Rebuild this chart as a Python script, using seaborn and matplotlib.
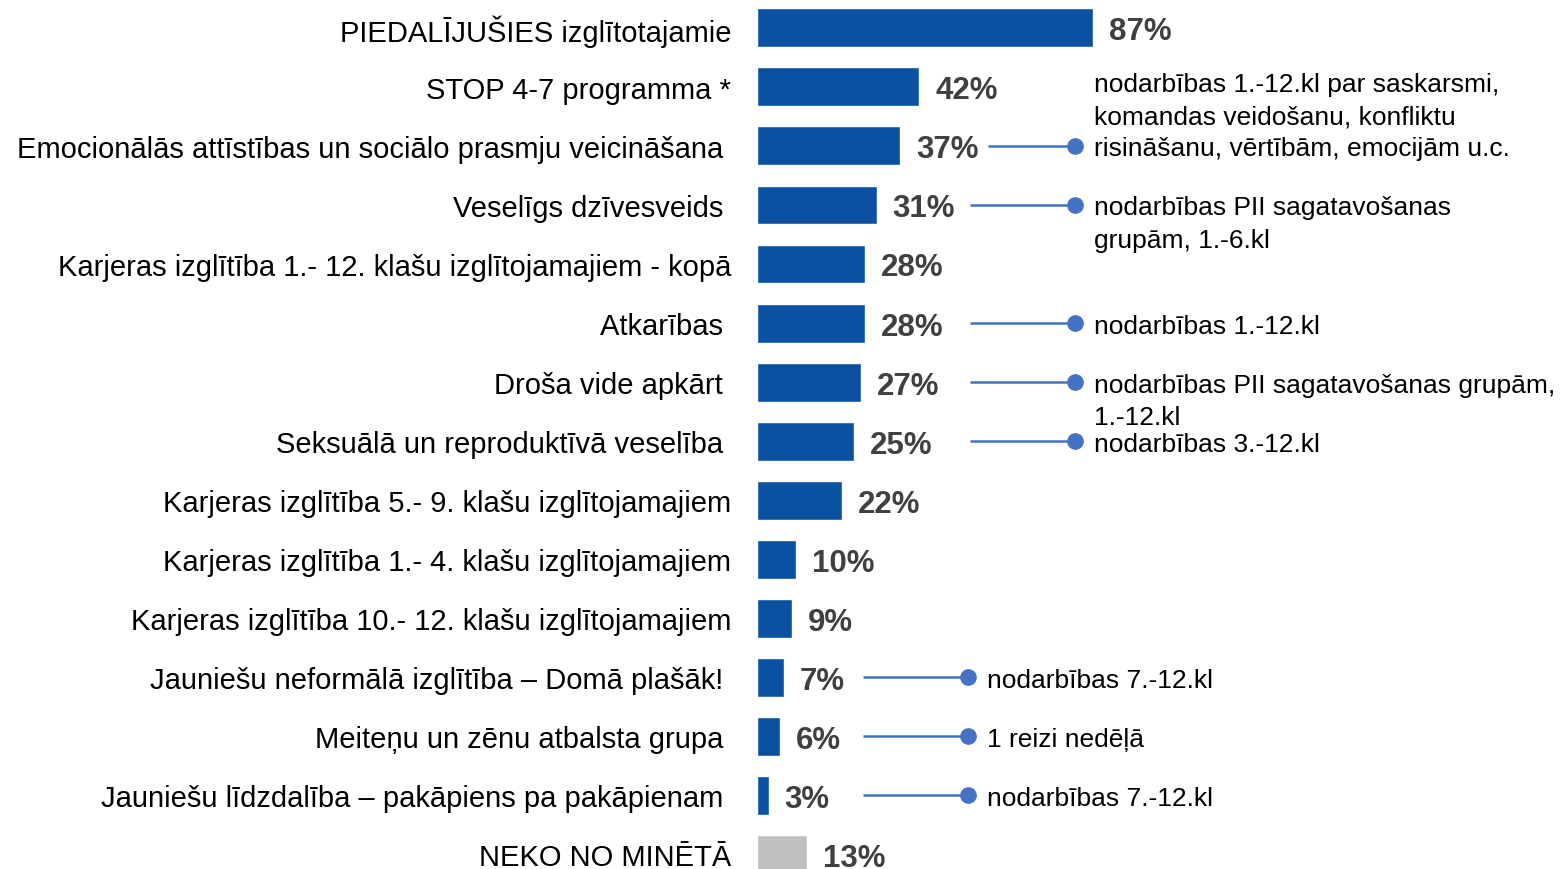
import matplotlib
matplotlib.use("Agg")
import matplotlib.pyplot as plt
import seaborn as sns
import pandas as pd

# Data
categories = [
    "PIEDALĪJUŠIES izglītotajamie",
    "STOP 4-7 programma *",
    "Emocionālās attīstības un sociālo prasmju veicināšana ",
    "Veselīgs dzīvesveids ",
    "Karjeras izglītība 1.- 12. klašu izglītojamajiem - kopā",
    "Atkarības ",
    "Droša vide apkārt ",
    "Seksuālā un reproduktīvā veselība ",
    "Karjeras izglītība 5.- 9. klašu izglītojamajiem",
    "Karjeras izglītība 1.- 4. klašu izglītojamajiem",
    "Karjeras izglītība 10.- 12. klašu izglītojamajiem",
    "Jauniešu neformālā izglītība – Domā plašāk! ",
    "Meiteņu un zēnu atbalsta grupa ",
    "Jauniešu līdzdalība – pakāpiens pa pakāpienam ",
    "NEKO NO MINĒTĀ",
]
values = [87, 42, 37, 31, 28, 28, 27, 25, 22, 10, 9, 7, 6, 3, 13]
bar_colors = ["#0A51A1"] * 14 + ["#BFBFBF"]

# Side notes: row, text, line start / dot position (in % units), which text line the dot points at
note_rows = [2, 3, 5, 6, 7, 11, 12, 13]
note_texts = [
    "nodarbības 1.-12.kl par saskarsmi,\nkomandas veidošanu, konfliktu\nrisināšanu, vērtībām, emocijām u.c.",
    "nodarbības PII sagatavošanas\ngrupām, 1.-6.kl",
    "nodarbības 1.-12.kl",
    "nodarbības PII sagatavošanas grupām,\n1.-12.kl",
    "nodarbības 3.-12.kl",
    "nodarbības 7.-12.kl",
    "1 reizi nedēļā",
    "nodarbības 7.-12.kl",
]
note_start = [59.8, 55.2, 55.2, 55.2, 55.2, 27.4, 27.4, 27.4]
note_dot = [82.3, 82.3, 82.3, 82.3, 82.3, 54.6, 54.6, 54.6]
note_line_idx = [2, 0, 0, 0, 0, 0, 0, 0]

df = pd.DataFrame({"category": categories, "value": values})

sns.set_theme(style="white")
plt.rcParams["font.family"] = ["Liberation Sans", "DejaVu Sans"]

fig = plt.figure(figsize=(15.6, 8.7), dpi=100)
ax = fig.add_axes([757 / 1560, 0, 1 - 757 / 1560, 1])

sns.barplot(data=df, x="value", y="category", hue="category",
            palette=bar_colors, width=0.66, legend=False, ax=ax,
            saturation=1)

ax.set_xlim(0, 207.9)
ax.set_ylim(14.25, -0.49)

# value labels
for i, v in enumerate(values):
    ax.annotate(f"{v}%", xy=(v, i), xytext=(11.5, -2.5), textcoords="offset points",
                ha="left", va="center", fontsize=22.5, fontweight="bold",
                color="#404040")

# connector lines with dots and notes (one text per line, 32px apart)
line_step = 32 / 59
for r, txt, x0, x1, li in zip(note_rows, note_texts, note_start, note_dot, note_line_idx):
    ax.plot([x0, x1], [r, r], color="#4472C4", lw=1.8, solid_capstyle="butt")
    ax.plot([x1], [r], "o", color="#4472C4", ms=11)
    for k, line in enumerate(txt.split("\n")):
        ax.annotate(line, xy=(x1, r + (k - li) * line_step), xytext=(14, 0),
                    textcoords="offset points", ha="left", va="center_baseline",
                    fontsize=19, color="#000000")

ax.set_xlabel("")
ax.set_ylabel("")
ax.set_xticks([])
ax.tick_params(axis="y", length=0, pad=18.5, labelsize=21, labelcolor="#000000")
sns.despine(ax=ax, left=True, bottom=True)

fig.savefig("out.png", dpi=100)
